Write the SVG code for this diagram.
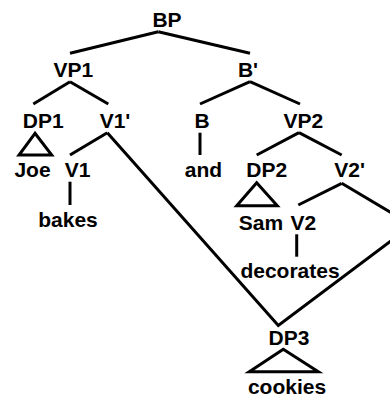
<svg xmlns="http://www.w3.org/2000/svg" width="390" height="396" viewBox="0 0 390 396">
  <style>
    .lbl { font-family: "Liberation Sans", Arial, sans-serif; font-weight: bold; font-size: 21px; fill: #000; text-anchor: middle; }
    .edge { stroke: #000; stroke-width: 3; fill: none; stroke-linecap: butt; stroke-linejoin: miter; }
    .tri { stroke: #000; stroke-width: 3; fill: none; stroke-linejoin: miter; }
  </style>
  <rect width="390" height="396" fill="#fff"/>

  <g id="connectors">
    <line class="edge" x1="158.3" y1="31.7" x2="70" y2="53.3"/>
    <line class="edge" x1="158.3" y1="31.7" x2="250" y2="53.3"/>
    <line class="edge" x1="70" y1="81.7" x2="33.3" y2="104"/>
    <line class="edge" x1="70" y1="81.7" x2="108.3" y2="104"/>
    <line class="edge" x1="250" y1="81.7" x2="200" y2="104"/>
    <line class="edge" x1="250" y1="81.7" x2="300" y2="104"/>
    <line class="edge" x1="107.3" y1="132.7" x2="70" y2="155"/>
    <line class="edge" x1="200" y1="132.7" x2="200" y2="155"/>
    <line class="edge" x1="299" y1="132.7" x2="256.7" y2="155"/>
    <line class="edge" x1="299" y1="132.7" x2="341.7" y2="155"/>
    <line class="edge" x1="70" y1="181.7" x2="70" y2="205"/>
    <line class="edge" x1="341.7" y1="183.3" x2="298.3" y2="205"/>
    <line class="edge" x1="296.7" y1="234.3" x2="296.7" y2="256.7"/>
    <!-- moved object DP3 is shared by both verb phrases -->
    <polyline class="edge" points="107.3,132.7 278.3,325.5 412,225 341.7,183.3"/>
  </g>

  <g id="BP"><text class="lbl" x="167" y="27">BP</text></g>
  <g id="VP1"><text class="lbl" x="73.3" y="77">VP1</text></g>
  <g id="Bbar"><text class="lbl" x="248" y="77">B'</text></g>
  <g id="DP1">
    <text class="lbl" x="43.3" y="128">DP1</text>
    <polygon class="tri" points="35,133.3 19,155 51.7,155"/>
  </g>
  <g id="V1bar"><text class="lbl" x="115" y="128">V1'</text></g>
  <g id="B"><text class="lbl" x="202" y="128">B</text></g>
  <g id="VP2"><text class="lbl" x="303.3" y="128">VP2</text></g>
  <g id="Joe"><text class="lbl" x="32.5" y="177">Joe</text></g>
  <g id="V1"><text class="lbl" x="77.5" y="177">V1</text></g>
  <g id="and"><text class="lbl" x="203.5" y="177">and</text></g>
  <g id="DP2">
    <text class="lbl" x="266.7" y="177">DP2</text>
    <polygon class="tri" points="256.7,182.7 236.7,205.7 277.3,205.7"/>
  </g>
  <g id="V2bar"><text class="lbl" x="349.7" y="177">V2'</text></g>
  <g id="bakes"><text class="lbl" x="68" y="227.3">bakes</text></g>
  <g id="Sam"><text class="lbl" x="261" y="230">Sam</text></g>
  <g id="V2"><text class="lbl" x="303.3" y="230">V2</text></g>
  <g id="decorates"><text class="lbl" x="290" y="278.3">decorates</text></g>
  <g id="DP3">
    <text class="lbl" x="289" y="345">DP3</text>
    <polygon class="tri" points="283.3,349.3 249.3,371.7 318.3,371.7"/>
  </g>
  <g id="cookies"><text class="lbl" x="287" y="394">cookies</text></g>
</svg>
